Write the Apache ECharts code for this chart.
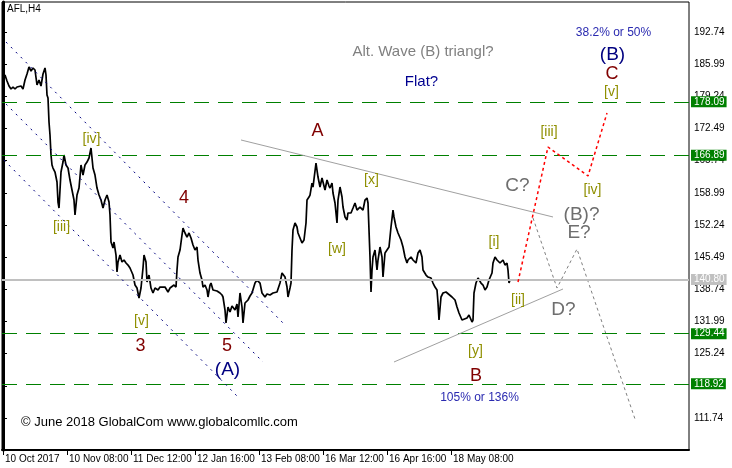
<!DOCTYPE html>
<html><head><meta charset="utf-8">
<script src="https://cdn.jsdelivr.net/npm/echarts@6/dist/echarts.min.js"></script>
<style>html,body{margin:0;padding:0;background:#fff}#c{width:732px;height:468px}</style>
</head><body><div id="c"></div>
<script>
// ---- data (bar index on H4 time scale, price) ----
const bars = [0,2,4,6,8,10,12,14,16,18,20,22,24,26,28,30,32,34,36,38,40,42,43,44,45,46,47,48,49,50,
52,54,55,56,58,60,61,63,65,67,69,71,72,74,76,78,80,82,84,86,88,90,92,94,96,98,100,102,104,106,
107,108,110,111,113,114,115,117,119,121,123,125,127,129,130,132,134,136,138,140,141,143,144,146,148,150,152,155,157,159,
162,165,167,169,171,173,174,175,177,179,180,182,184,186,188,190,192,194,195,197,199,200,202,204,205,207,208,210,212,214,
217,219,220,222,223,225,227,229,232,234,235,237,239,240,242,245,247,249,252,254,257,259,262,264,267,270,274,277,279,282,
284,285,287,288,289,290,292,294,295,297,299,301,303,304,306,307,309,310,313,315,317,319,320,322,324,326,327,329,330,332,
334,335,337,339,340,342,344,345,348,350,352,354,357,360,362,364,365,366,367,368,369,370,372,374,375,377,379,380,382,384,
386,388,390,391,393,395,398,400,402,404,405,408,410,413,415,417,419,420,423,425,428,430,432,434,435,436,438,440,443,445,
449,452,454,456,459,461,464,466,469,470,471,473,475,478,480,482,484,486,489,490,492,494,497,500,502,504,505,506,507];
const prices = [183.09,183.72,182.46,181.41,180.78,181.20,180.78,181.20,180.99,181.41,
180.78,182.67,183.93,185.40,184.56,185.19,184.77,181.62,182.67,181.41,
183.93,185.19,183.72,179.52,178.89,173.85,171.12,166.93,164.83,164.20,
163.36,161.26,157.06,155.80,163.36,165.46,166.93,164.83,164.20,161.68,
159.58,157.48,154.34,158.53,160.00,164.83,162.73,164.83,165.46,166.30,
168.40,164.20,162.73,160.00,158.53,157.48,155.80,157.48,158.53,157.06,
154.34,148.67,147.41,148.67,145.94,142.37,144.47,145.94,144.47,144.89,
144.26,143.84,143.21,143.21,141.74,139.64,139.01,136.92,139.01,143.21,
145.94,144.47,140.27,141.74,139.01,137.97,139.01,138.60,139.22,139.01,
139.22,138.18,139.01,138.60,139.64,139.22,142.79,145.52,146.99,150.14,
151.61,150.56,149.72,150.56,149.51,148.04,146.99,147.62,144.89,142.16,
140.69,139.22,139.64,138.60,137.13,139.64,140.06,138.60,139.01,138.39,
137.97,137.55,137.13,134.40,131.67,135.03,133.98,135.24,134.40,135.66,
132.93,137.97,135.03,131.67,135.87,136.50,137.34,137.97,140.06,140.69,
140.06,137.97,137.13,137.76,137.55,137.97,138.18,140.06,142.16,141.32,
139.22,137.13,139.01,140.06,146.99,151.19,152.66,151.82,150.56,149.51,
148.46,149.09,152.66,157.48,158.11,158.53,161.05,160.21,165.25,162.31,
160.21,162.10,161.26,159.58,161.68,160.42,160.00,161.05,158.95,156.85,
152.66,157.48,160.21,158.11,156.01,153.92,153.29,154.76,154.76,155.80,
156.85,155.38,156.01,155.38,157.48,157.90,156.85,151.19,145.52,138.18,
142.79,145.52,146.99,142.79,144.89,147.62,145.52,141.32,146.36,146.99,
147.62,151.82,155.38,153.92,151.82,150.56,149.09,147.62,145.52,144.26,
144.89,145.52,144.89,144.26,146.36,146.99,145.52,142.79,141.74,141.32,
141.11,140.06,139.22,138.60,135.87,132.30,137.13,137.97,138.18,137.97,
137.13,136.50,135.03,133.77,132.30,132.30,132.72,133.35,131.88,132.30,
137.97,140.06,141.11,140.06,139.64,138.60,139.22,140.69,142.16,144.26,
145.52,144.89,144.26,144.89,143.84,144.26,142.79,140.06,140.69];

const yTicks = [192.74,185.99,179.24,172.49,165.74,158.99,152.24,145.49,138.74,131.99,125.24,118.49,111.74];
const xTickBars = [0,64,128,192,256,320,384,448];
const xTickLabels = ['10 Oct 2017','10 Nov 08:00','11 Dec 12:00','12 Jan 16:00','13 Feb 08:00','16 Mar 12:00','16 Apr 16:00','18 May 08:00'];
const levels = [178.09,166.89,129.44,118.92];
const lastPrice = 140.80;

// channel / triangle lines: [bar1, price1, bar2, price2]
const channelLines = [[3,190.64,283,131.04],[3,177.63,260,123.49],[1,165.87,235,116.14]];
const triangleLines = [[238,170.08,550,153.92],[391,123.49,560,138.81]];
// projected paths
const redBars = [515,545,585,604];
const redPrices = [140.27,168.61,162.52,175.74];
const grayBars = [530,554,574,632];
const grayPrices = [153.71,139.01,147.20,111.52];

// wave labels
const waveText = ['[iv]','[iii]','4','[v]','3','5','(A)','A','[x]','[w]','[i]','[ii]','[y]','B','105% or 136%','Alt. Wave (B) triangl?','Flat?','38.2% or 50%','(B)','C','[v]','[iii]','[iv]','C?','(B)?','E?','D?'];
const waveBar = [88.5,58.5,181,138.5,137.5,224,224.5,314.5,368.5,334,491,515,472.5,473,476.5,420,418.5,610.5,609.5,609,608.5,546,589.5,514.5,578.5,576,560.5];
const wavePrice = [170.29,151.71,157.80,132.09,126.74,126.74,121.91,171.97,161.58,147.10,148.56,136.39,125.79,120.55,115.93,188.54,182.25,192.53,188.02,183.92,180.04,171.65,159.48,160.53,154.34,150.55,134.40];
const waveKind = ['sub','sub','red','sub','red','red','navy','red','sub','sub','sub','sub','sub','red','pct','alt','flat','pct','navy','red','sub','sub','sub','q','q','q','q'];

// ---- styles ----
const FONT = 'Liberation Sans, Arial, sans-serif';
const kindStyle = {
  sub:{color:'#8f8f00',fontSize:14},
  red:{color:'#800000',fontSize:18},
  navy:{color:'#000080',fontSize:19},
  pct:{color:'#2a2ab0',fontSize:12},
  alt:{color:'#808080',fontSize:15},
  flat:{color:'#000090',fontSize:15},
  q:{color:'#6e6e6e',fontSize:19}
};

const seg = (l, style) => [{coord:[l[0],l[1]], lineStyle:style},{coord:[l[2],l[3]]}];
const markData = [];
levels.forEach(v => markData.push({yAxis:v, lineStyle:{color:'#008000',width:1,type:[15,9]},
  label:{show:true, position:'end', distance:2, formatter:p=>p.value.toFixed(2), color:'#fff', backgroundColor:'#008000', padding:[1,2,0,3], fontSize:10, fontFamily:FONT}}));
markData.push({yAxis:lastPrice, lineStyle:{color:'#c0c0c0',width:2,type:'solid'},
  label:{show:true, position:'end', distance:2, formatter:p=>p.value.toFixed(2), color:'#fff', backgroundColor:'#c0c0c0', padding:[1,2,0,3], fontSize:10, fontFamily:FONT}});
channelLines.forEach(l => markData.push(seg(l,{color:'#000080',width:1,type:[2,5]})));
triangleLines.forEach(l => markData.push(seg(l,{color:'#a0a0a0',width:1,type:'solid'})));

const chart = echarts.init(document.getElementById('c'), null, {renderer:'canvas'});
chart.setOption({
  animation:false,
  backgroundColor:'#fff',
  grid:{left:2, top:2, width:687, height:448, show:true, borderColor:'#000', borderWidth:1},
  xAxis:{type:'value', min:-1, max:686,
    axisLine:{show:true, lineStyle:{color:'#000', width:2}},
    axisTick:{show:true, customValues:xTickBars, length:5, lineStyle:{color:'#000'}},
    axisLabel:{customValues:xTickBars, formatter:v=>xTickLabels[xTickBars.indexOf(v)], align:'left', margin:4, padding:[0,0,0,2], color:'#000', fontSize:10, fontFamily:FONT},
    splitLine:{show:false}},
  yAxis:{type:'value', position:'right', min:105.02, max:199.04,
    axisLine:{show:true, lineStyle:{color:'#000', width:3}},
    axisTick:{show:true, customValues:yTicks, length:4, lineStyle:{color:'#000'}},
    axisLabel:{customValues:yTicks, formatter:v=>v.toFixed(2), margin:5, color:'#000', fontSize:10, fontFamily:FONT},
    splitLine:{show:false}},
  graphic:[
    {type:'text', left:7, top:4, style:{text:'AFL,H4', font:'10px '+FONT, fill:'#000'}},
    {type:'text', left:21, top:416, style:{text:'\u00a9 June 2018 GlobalCom www.globalcomllc.com', font:'13px '+FONT, fill:'#000'}}
  ],
  series:[
    {type:'line', data:bars.map((b,i)=>[b,prices[i]]), showSymbol:false, symbol:'none',
      lineStyle:{color:'#000', width:1.7}, z:3,
      markLine:{silent:true, symbol:['none','none'], animation:false, label:{show:false}, data:markData}},
    {type:'line', data:grayBars.map((b,i)=>[b,grayPrices[i]]), showSymbol:false, symbol:'none',
      lineStyle:{color:'#808080', width:1, type:[3,3]}, z:4},
    {type:'line', data:redBars.map((b,i)=>[b,redPrices[i]]), showSymbol:false, symbol:'none',
      lineStyle:{color:'#ff0000', width:1.5, type:[3,3]}, z:5},
    {type:'scatter', symbolSize:1, silent:true, itemStyle:{color:'rgba(0,0,0,0)', opacity:1}, z:6,
      data:waveText.map((t,i)=>({name:t, value:[waveBar[i],wavePrice[i]],
        label:{show:true, position:'inside', formatter:t, opacity:1, color:kindStyle[waveKind[i]].color,
          fontSize:kindStyle[waveKind[i]].fontSize, fontFamily:FONT}}))}
  ]
});
</script></body></html>
